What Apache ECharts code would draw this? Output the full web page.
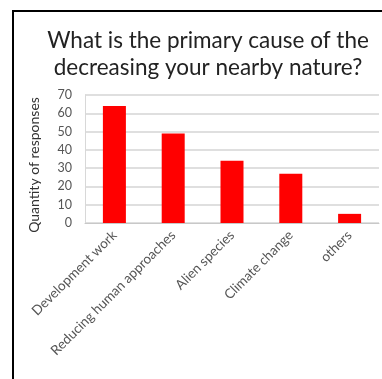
<!DOCTYPE html>
<html><head><meta charset="utf-8">
<script src="https://cdn.jsdelivr.net/npm/echarts@6/dist/echarts.min.js"></script>
<style>html,body{margin:0;padding:0;background:#fff}#c{width:382px;height:379px}</style>
</head><body><div id="c"></div>
<script>
const titleLines = ['What is the primary cause of the', 'decreasing your nearby nature?'];
const categories = ['Development work', 'Reducing human approaches', 'Alien species', 'Climate change', 'others'];
const values = [64, 49, 34, 27, 5];
const yTicks = { min: 0, max: 70, interval: 10 };
const yName = 'Quantity of responses';

const chart = echarts.init(document.getElementById('c'));
chart.setOption({
  animation: false,
  graphic: [
    { type: 'line', shape: { x1: 13, y1: 10, x2: 13, y2: 379 }, style: { stroke: '#000', lineWidth: 2 } },
    { type: 'line', shape: { x1: 12, y1: 11, x2: 382, y2: 11 }, style: { stroke: '#000', lineWidth: 2 } }
  ],
  title: {
    text: titleLines.join('\n'),
    left: 203, top: 22, textAlign: 'center',
    textStyle: { fontFamily: 'Lato', fontSize: 22.5, fontWeight: 'normal', color: '#222', lineHeight: 27 }
  },
  grid: { left: 85, right: 3, top: 95, bottom: 156, containLabel: false },
  xAxis: {
    type: 'category', data: categories,
    axisLine: { lineStyle: { color: '#c8c8c8' } },
    axisTick: { show: false },
    axisLabel: { rotate: 45, color: '#555', fontFamily: 'Lato', fontSize: 13.5, interval: 0, margin: 10 }
  },
  yAxis: {
    type: 'value', min: yTicks.min, max: yTicks.max, interval: yTicks.interval,
    name: yName, nameLocation: 'middle', nameRotate: 90, nameGap: 44,
    nameTextStyle: { color: '#333', fontFamily: 'Lato', fontSize: 14, padding: [0, 12, 0, 0] },
    axisLine: { show: true, lineStyle: { color: '#d8d8d8' } },
    axisTick: { show: false },
    axisLabel: { color: '#555', fontFamily: 'Lato', fontSize: 12.5, margin: 13 },
    splitLine: { lineStyle: { color: '#d4d4d4', width: 1.5 } }
  },
  series: [{
    type: 'bar', data: values, barWidth: 23,
    itemStyle: { color: '#ff0000' }
  }]
});
</script></body></html>
